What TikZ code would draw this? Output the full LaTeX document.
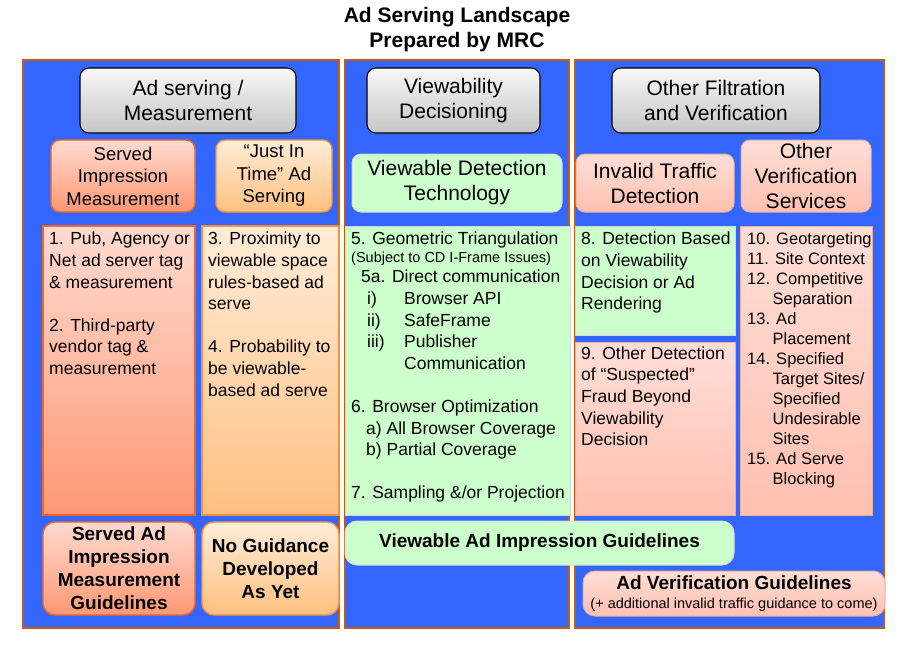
\documentclass[tikz,border=0pt]{standalone}
\usepackage{fontspec}
\setmainfont{Liberation Sans}

\definecolor{panelblue}{RGB}{51,102,255}
\definecolor{panelrim}{RGB}{197,90,17}
\definecolor{salmontop}{RGB}{255,218,208}
\definecolor{salmonbot}{RGB}{255,152,115}
\definecolor{salmonrim}{RGB}{242,101,34}
\definecolor{peachtop}{RGB}{255,236,216}
\definecolor{peachbot}{RGB}{255,192,128}
\definecolor{peachrim}{RGB}{247,146,60}
\definecolor{mint}{RGB}{204,255,204}
\definecolor{mintrim}{RGB}{215,215,215}
\definecolor{pinktop}{RGB}{255,222,214}
\definecolor{pinkbot}{RGB}{255,192,176}
\definecolor{pinkrim}{RGB}{240,175,155}

\begin{document}
\begin{tikzpicture}[
        x=1pt, y=-1pt,
        box/.style={anchor=north west, inner sep=0pt, outer sep=0pt},
        panel/.style={box, draw=panelrim, line width=1.4pt, fill=panelblue},
        head/.style={
            box,
            draw=black,
            line width=1.1pt,
            rounded corners=9pt,
            top color=gray!6,
            bottom color=gray!45,
            align=center,
            font=\fontsize{21}{25}\selectfont
        },
        salmonbox/.style={draw=salmonrim, line width=1.4pt, top color=salmontop, bottom color=salmonbot},
        peachbox/.style={draw=peachrim, line width=1.4pt, top color=peachtop, bottom color=peachbot},
        mintbox/.style={draw=mintrim, line width=1pt, fill=mint},
        pinkbox/.style={draw=pinkrim, line width=1pt, top color=pinktop, bottom color=pinkbot},
        sub/.style={box, rounded corners=9pt, align=center, font=\fontsize{21}{25}\selectfont},
        subsmall/.style={sub, font=\fontsize{18.5}{22.5}\selectfont},
        list/.style={anchor=north west, inner sep=0pt, align=left, font=\fontsize{17.5}{21.6}\selectfont},
        guide/.style={box, rounded corners=12pt, align=center, font=\bfseries\fontsize{19}{23}\selectfont}
    ]
        \useasboundingbox[fill=white] (0,0) rectangle (910,656);

        \node[font=\bfseries\fontsize{21}{25}\selectfont, align=center] (title) at (457,29.5) {Ad Serving Landscape\\Prepared by MRC};

        \node[panel, minimum width=316, minimum height=568] (pA) at (23,60) {};
        \node[panel, minimum width=224, minimum height=568] (pB) at (345,60) {};
        \node[panel, minimum width=309, minimum height=568] (pC) at (575,60) {};

        \node[head, minimum width=216, minimum height=65] (hA) at (80,68) {Ad serving /\\Measurement};
        \node[head, minimum width=173, minimum height=65] (hB) at (367,68) {Viewability\\Decisioning};
        \node[head, minimum width=208, minimum height=65] (hC) at (612,68) {Other Filtration\\and Verification};

        \node[subsmall, salmonbox, minimum width=144, minimum height=72] (sA1) at (51,140) {Served\\Impression\\Measurement};
        \node[subsmall, peachbox, minimum width=116, minimum height=72] (sA2) at (216,140) {“Just In\\Time” Ad\\Serving};
        \node[sub, mintbox, minimum width=210, minimum height=58] (sB) at (352,154) {Viewable Detection\\Technology};
        \node[sub, pinkbox, minimum width=158, minimum height=58] (sC1) at (576,154) {Invalid Traffic\\Detection};
        \node[sub, pinkbox, minimum width=130, minimum height=72] (sC2) at (741,140) {Other\\Verification\\Services};

        \node[box, salmonbox, minimum width=152, minimum height=289] (cA1) at (43,226) {};
        \node[box, peachbox, minimum width=137, minimum height=289] (cA2) at (202,226) {};
        \node[box, mintbox, minimum width=225, minimum height=289] (cB) at (345,226) {};
        \node[box, mintbox, minimum width=160, minimum height=109] (cC1) at (575,226) {};
        \node[box, pinkbox, minimum width=160, minimum height=173] (cC2) at (575,342) {};
        \node[box, pinkbox, minimum width=132, minimum height=289] (cC3) at (740,226) {};

        \node[list] (tA1) at ([shift={(6,6)}]cA1.north west) {1. Pub, Agency or\\Net ad server tag\\\& measurement\\[21.6pt]2. Third-party\\vendor tag \&\\measurement};
        \node[list] (tA2) at ([shift={(6,6)}]cA2.north west) {3. Proximity to\\viewable space\\rules-based ad\\serve\\[21.6pt]4. Probability to\\be viewable-\\based ad serve};
        \node[list] (tB) at ([shift={(6,6)}]cB.north west) {5. Geometric Triangulation\\[-3.6pt]
            {\fontsize{14.5}{17}\selectfont (Subject to CD I-Frame Issues)}\\[-1.6pt]
            \hspace*{10pt}5a. Direct communication\\
            \hspace*{16pt}\makebox[37pt][l]{i)}Browser API\\
            \hspace*{16pt}\makebox[37pt][l]{ii)}SafeFrame\\
            \hspace*{16pt}\makebox[37pt][l]{iii)}Publisher\\
            \hspace*{53pt}Communication\\[21.6pt]
            6. Browser Optimization\\
            \hspace*{15pt}a) All Browser Coverage\\
            \hspace*{15pt}b) Partial Coverage\\[21.6pt]
            7. Sampling \&/or Projection};
        \node[list] (tC1) at ([shift={(6,6)}]cC1.north west) {8. Detection Based\\on Viewability\\Decision or Ad\\Rendering};
        \node[list] (tC2) at ([shift={(6,4.5)}]cC2.north west) {9. Other Detection\\of “Suspected”\\Fraud Beyond\\Viewability\\Decision};
        \node[list, font=\fontsize{16.5}{20}\selectfont] (tC3) at ([shift={(7,6)}]cC3.north west) {10. Geotargeting\\
            11. Site Context\\
            12. Competitive\\
            \hspace*{25.5pt}Separation\\
            13. Ad\\
            \hspace*{25.5pt}Placement\\
            14. Specified\\
            \hspace*{25.5pt}Target Sites/\\
            \hspace*{25.5pt}Specified\\
            \hspace*{25.5pt}Undesirable\\
            \hspace*{25.5pt}Sites\\
            15. Ad Serve\\
            \hspace*{25.5pt}Blocking};

        \node[guide, salmonbox, minimum width=152, minimum height=93] (gA1) at (43,522) {Served Ad\\Impression\\Measurement\\Guidelines};
        \node[guide, peachbox, minimum width=137, minimum height=93] (gA2) at (202,522) {No Guidance\\Developed\\As Yet};
        \node[guide, mintbox, minimum width=389, minimum height=44] (gB) at (345,521) {Viewable Ad Impression Guidelines};
        \node[guide, pinkbox, font=\fontsize{19}{23}\selectfont, minimum width=302, minimum height=45] (gC) at (583,571) {\textbf{Ad Verification Guidelines}\\[-4pt]{\fontsize{14.5}{17}\selectfont (+ additional invalid traffic guidance to come)}};
    \end{tikzpicture}
\end{document}
